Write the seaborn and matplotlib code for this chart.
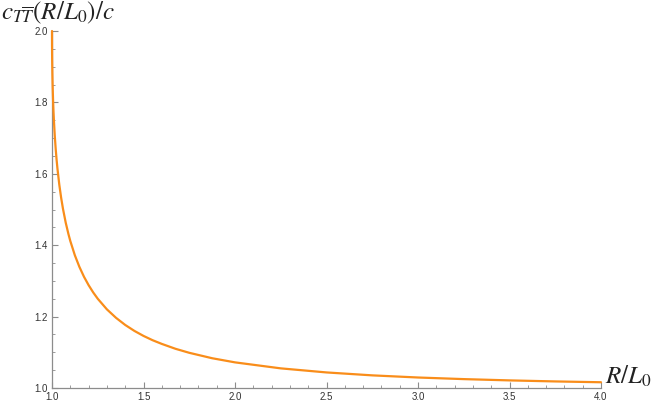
import matplotlib
matplotlib.use("Agg")
import matplotlib.pyplot as plt
import seaborn as sns
import pandas as pd
from matplotlib.ticker import MultipleLocator, FormatStrFormatter

# Values
r_over_l0 = [1.0, 1.0002, 1.0005, 1.001, 1.002, 1.003, 1.004, 1.006, 1.008, 1.01,
             1.015, 1.02, 1.025, 1.03, 1.04, 1.05, 1.06, 1.075, 1.09, 1.1,
             1.125, 1.15, 1.175, 1.2, 1.225, 1.25, 1.3, 1.35, 1.4, 1.45,
             1.5, 1.55, 1.6, 1.675, 1.75, 1.875, 2.0, 2.25, 2.5, 2.75,
             3.0, 3.25, 3.5, 3.75, 4.0]
c_ratio = [2.0, 1.961, 1.9387, 1.9145, 1.8812, 1.8565, 1.8362, 1.8034, 1.7766, 1.7538,
           1.7076, 1.6708, 1.6400, 1.6135, 1.5690, 1.5327, 1.5019, 1.4630, 1.4308, 1.4118,
           1.3716, 1.3389, 1.3114, 1.2881, 1.2678, 1.25, 1.2203, 1.1965, 1.1766, 1.1600,
           1.1459, 1.1338, 1.1235, 1.1098, 1.0986, 1.0834, 1.0718, 1.0550, 1.0436, 1.0354,
           1.0294, 1.0249, 1.0213, 1.0184, 1.0161]
x_ticks = [1.0, 1.5, 2.0, 2.5, 3.0, 3.5, 4.0]
y_ticks = [1.0, 1.2, 1.4, 1.6, 1.8, 2.0]

df = pd.DataFrame({"x": r_over_l0, "y": c_ratio})

sns.set_style("white")
plt.rcParams["mathtext.fontset"] = "stix"
plt.rcParams["font.family"] = ["Liberation Sans", "DejaVu Sans"]

fig = plt.figure(figsize=(6.54, 4.09), dpi=100)
ax = fig.add_axes([52 / 654, 1 - 388 / 409, (601 - 52) / 654, (388 - 31) / 409])

sns.lineplot(data=df, x="x", y="y", ax=ax, color="#f98d1a", linewidth=1.6,
             clip_on=False, zorder=5)

ax.set_xlim(1.0, 4.0)
ax.set_ylim(1.0, 2.0)
ax.set_xticks(x_ticks)
ax.set_yticks(y_ticks)
ax.xaxis.set_minor_locator(MultipleLocator(0.1))
ax.yaxis.set_minor_locator(MultipleLocator(0.05))
ax.xaxis.set_major_formatter(FormatStrFormatter("%.1f"))
ax.yaxis.set_major_formatter(FormatStrFormatter("%.1f"))
ax.set_xlabel("")
ax.set_ylabel("")

for s in ["top", "right"]:
    ax.spines[s].set_visible(False)
for s in ["left", "bottom"]:
    ax.spines[s].set_color("#8c8c8c")
    ax.spines[s].set_linewidth(0.9)

ax.tick_params(axis="both", which="major", direction="in", length=4, width=0.8,
               color="#8c8c8c", labelsize=7, labelcolor="#333333", pad=3)
ax.tick_params(axis="both", which="minor", direction="in", length=2.5, width=0.6,
               color="#8c8c8c")
ax.tick_params(axis="x", which="both", bottom=True)
ax.tick_params(axis="y", which="both", left=True)

fig.text(605 / 654, 1 - 376 / 409, r"$R/L_0$", fontsize=18, ha="left", va="center",
         color="#222222")
fig.text(1 / 654, 1 - 13 / 409, r"$c_{T\overline{T}}(R/L_0)/c$", fontsize=18,
         ha="left", va="center", color="#222222")

fig.savefig("out.png", dpi=100)
